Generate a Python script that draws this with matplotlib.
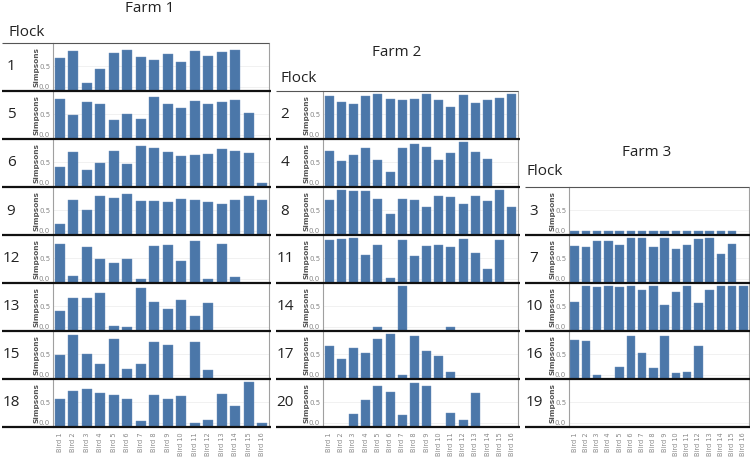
import numpy as np
import matplotlib
matplotlib.use("Agg")
import matplotlib.pyplot as plt
from matplotlib.lines import Line2D

NA = np.nan

birds = ["Bird 1", "Bird 2", "Bird 3", "Bird 4", "Bird 5", "Bird 6", "Bird 7", "Bird 8",
         "Bird 9", "Bird 10", "Bird 11", "Bird 12", "Bird 13", "Bird 14", "Bird 15", "Bird 16"]

# Farm 1
farm1_flocks = ["1", "5", "6", "9", "12", "13", "15", "18"]
f1_1 = [0.70, 0.87, 0.08, 0.43, 0.82, 0.89, 0.73, 0.64, 0.80, 0.61, 0.87, 0.75, 0.84, 0.90, NA, NA]
f1_5 = [0.88, 0.48, 0.81, 0.74, 0.35, 0.50, 0.37, 0.92, 0.74, 0.66, 0.83, 0.74, 0.81, 0.85, 0.53, NA]
f1_6 = [0.37, 0.74, 0.31, 0.48, 0.77, 0.45, 0.89, 0.85, 0.74, 0.65, 0.67, 0.70, 0.82, 0.77, 0.72, 0.0]
f1_9 = [0.15, 0.76, 0.51, 0.86, 0.79, 0.89, 0.73, 0.72, 0.69, 0.77, 0.75, 0.70, 0.64, 0.76, 0.84, 0.74]
f1_12 = [0.86, 0.06, 0.78, 0.49, 0.38, 0.48, 0.0, 0.80, 0.83, 0.42, 0.92, 0.0, 0.84, 0.04, NA, NA]
f1_13 = [0.37, 0.69, 0.69, 0.82, 0.01, 0.0, 0.95, 0.61, 0.42, 0.66, 0.26, 0.59, NA, NA, NA, NA]
f1_15 = [0.47, 0.98, 0.50, 0.27, 0.88, 0.14, 0.27, 0.81, 0.73, NA, 0.79, 0.10, NA, NA, NA, NA]
f1_18 = [0.57, 0.78, 0.82, 0.72, 0.67, 0.57, 0.03, 0.68, 0.57, 0.66, 0.0, 0.06, 0.70, 0.41, 1.0, 0.0]

# Farm 2
farm2_flocks = ["2", "4", "8", "11", "14", "17", "20"]
f2_2 = [0.95, 0.81, 0.75, 0.94, 1.0, 0.875, 0.85, 0.87, 1.0, 0.85, 0.68, 0.97, 0.78, 0.85, 0.91, 0.99]
f2_4 = [0.77, 0.52, 0.68, 0.85, 0.56, 0.27, 0.85, 0.94, 0.88, 0.565, 0.73, 1.0, 0.75, 0.59, NA, NA]
f2_8 = [0.75, 1.0, 0.98, 0.98, 0.77, 0.40, 0.78, 0.74, 0.59, 0.84, 0.82, 0.65, 0.84, 0.72, 1.0, 0.575]
f2_11 = [0.95, 0.96, 0.99, 0.59, 0.83, 0.025, 0.95, 0.56, 0.81, 0.815, 0.775, 0.98, 0.62, 0.23, 0.95, NA]
f2_14 = [NA, NA, NA, NA, 0.0, NA, 0.99, NA, NA, NA, 0.0, NA, NA, NA, NA, NA]
f2_17 = [0.70, 0.39, 0.64, 0.52, 0.88, 1.0, 0.0, 0.94, 0.57, 0.45, 0.05, NA, NA, NA, NA, NA]
f2_20 = [NA, NA, 0.20, 0.55, 0.90, 0.76, 0.19, 0.98, 0.89, NA, 0.24, 0.05, 0.725, NA, NA, NA]

# Farm 3
farm3_flocks = ["3", "7", "10", "16", "19"]
f3_3 = [0.0, 0.0, 0.0, 0.0, 0.0, 0.0, 0.0, 0.0, 0.0, 0.0, 0.0, 0.0, 0.0, 0.0, 0.0, NA]
f3_7 = [0.79, 0.775, 0.93, 0.93, 0.83, 1.0, 1.0, 0.77, 1.0, 0.73, 0.825, 0.97, 1.0, 0.61, 0.84, NA]
f3_10 = [0.61, 1.0, 0.98, 1.0, 0.98, 0.99, 0.90, 1.0, 0.53, 0.85, 1.0, 0.58, 0.90, 1.0, 1.0, 1.0]
f3_16 = [0.84, 0.83, 0.0, NA, 0.19, 0.94, 0.52, 0.16, 0.94, 0.03, 0.05, 0.71, NA, NA, NA, NA]
f3_19 = [NA] * 16

farm_titles = ["Farm 1", "Farm 2", "Farm 3"]

# ---------------------------------------------------------------- layout
W, H = 750, 459
RH = 48
YMIN, YMAX = -0.11, 1.07
BAR = "#4b77a9"
FONT = "Open Sans"

farms = [
    dict(title=farm_titles[0], flocks=farm1_flocks,
         data=[f1_1, f1_5, f1_6, f1_9, f1_12, f1_13, f1_15, f1_18],
         pl=2, al=53, ar=269, top=43, tx=150, ty=8, fx_=8, fy_=32),
    dict(title=farm_titles[1], flocks=farm2_flocks,
         data=[f2_2, f2_4, f2_8, f2_11, f2_14, f2_17, f2_20],
         pl=276, al=323, ar=518, top=91, tx=397, ty=52, fx_=280, fy_=78),
    dict(title=farm_titles[2], flocks=farm3_flocks,
         data=[f3_3, f3_7, f3_10, f3_16, f3_19],
         pl=525, al=569, ar=749, top=187, tx=647, ty=152, fx_=527, fy_=172),
]

fig = plt.figure(figsize=(7.5, 4.59), dpi=100)
fig.patch.set_facecolor("white")


def X(x):
    return x / W


def Y(y):
    return 1 - y / H


def hline(x0, x1, y, color, lw):
    fig.add_artist(Line2D([X(x0), X(x1)], [Y(y), Y(y)], transform=fig.transFigure,
                          color=color, lw=lw, solid_capstyle="butt"))


for farm in farms:
    pl, al, ar, top = farm["pl"], farm["al"], farm["ar"], farm["top"]
    n = len(farm["flocks"])
    fig.text(X(farm["tx"]), Y(farm["ty"]), farm["title"], ha="center", va="center",
             fontsize=11, family=FONT, color="#222")
    fig.text(X(farm["fx_"]), Y(farm["fy_"]), "Flock", ha="left", va="center",
             fontsize=11, family=FONT, color="#222")
    axw = ar - al
    for i, (fl, vals) in enumerate(zip(farm["flocks"], farm["data"])):
        y0 = top + i * RH
        ax = fig.add_axes([X(al), Y(y0 + RH), axw / W, RH / H])
        v = np.array(vals, dtype=float)
        ax.bar(np.arange(len(birds)), v - YMIN, bottom=YMIN, width=0.74, color=BAR,
               edgecolor="#6f93bd", linewidth=0.3)
        ax.set_xlim(-0.5, len(birds) - 0.5)
        ax.set_ylim(YMIN, YMAX)
        ax.set_yticks([0.0, 0.5])
        ax.set_yticklabels(["0.0", "0.5"])
        ax.yaxis.grid(True, color="#efefef", lw=0.6)
        ax.set_axisbelow(True)
        ax.tick_params(axis="y", length=0, labelsize=5, labelcolor="#888", pad=2)
        for s in ["top", "bottom"]:
            ax.spines[s].set_visible(False)
        ax.spines["left"].set_color("#a0a0a0")
        ax.spines["left"].set_linewidth(0.8)
        ax.spines["right"].set_color("#a0a0a0")
        ax.spines["right"].set_linewidth(0.8)
        ax.text(-17 / axw, 0.5, "Simpsons", rotation=90, ha="center", va="center",
                transform=ax.transAxes, fontsize=5.3, fontweight="bold", color="#555")
        if i == n - 1:
            ax.set_xticks(np.arange(len(birds)))
            ax.set_xticklabels(birds)
            ax.tick_params(axis="x", length=0, labelsize=4.7, labelcolor="#888",
                           pad=4, labelrotation=90)
        else:
            ax.set_xticks([])
        fig.text(X(pl + 9), Y(y0 + RH / 2), fl, ha="center", va="center",
                 fontsize=11, family=FONT, color="#222")
        hline(pl, ar + 2, y0 + RH, "#111", 1.6)
    hline(pl, ar, top, "#555", 0.8)

fig.savefig("out.png", dpi=100, facecolor="white")
